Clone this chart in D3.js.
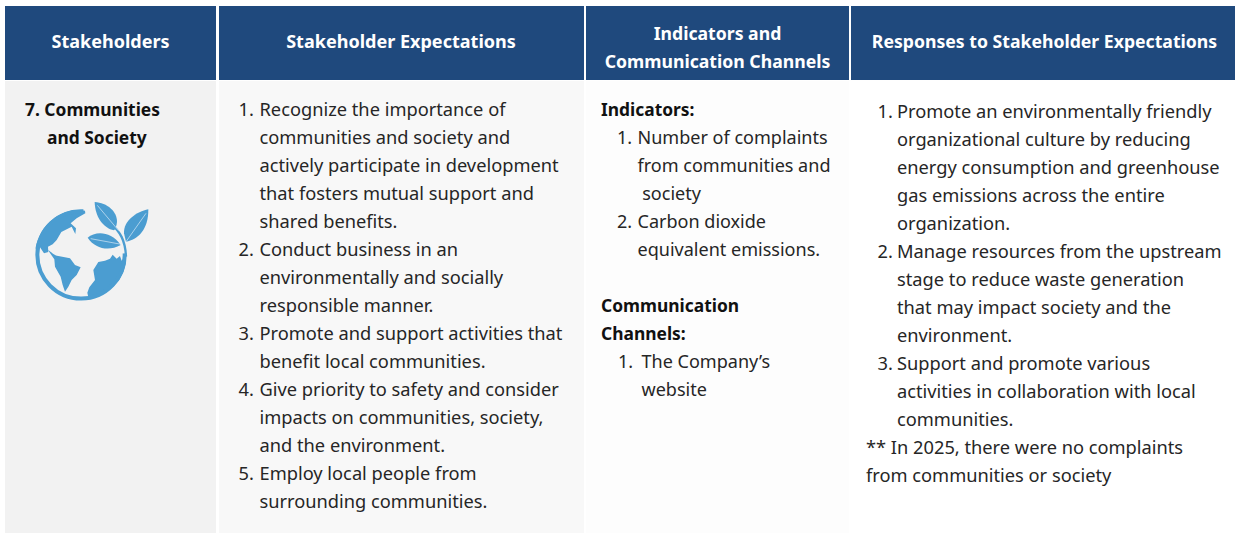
<!DOCTYPE html>
<html>
<head>
<meta charset="utf-8">
<script src="https://cdn.jsdelivr.net/npm/d3@7"></script>
<style>
html, body { margin: 0; padding: 0; background: #fff; overflow: hidden; }
text { font-family: "Noto Sans", sans-serif; font-size: 18.25px; fill: #262626; white-space: pre; }
.head { font-weight: 700; fill: #fff; text-anchor: middle; }
.bold { font-size: 17.4px; font-weight: 700; fill: #111; }
.mid { font-size: 18.05px; }
</style>
</head>
<body>
<div id="chart"></div>
<script>
// header labels, one list of lines per column
var headers = [
    ["Stakeholders"],
    ["Stakeholder Expectations"],
    ["Indicators and", "Communication Channels"],
    ["Responses to Stakeholder Expectations"]
];

// body rows: [number, text]
var stakeholderRows = [
    ["7.", "Communities"],
    ["", "and Society"]
];

var expectationRows = [
    ["1.", "Recognize the importance of"],
    ["", "communities and society and"],
    ["", "actively participate in development"],
    ["", "that fosters mutual support and"],
    ["", "shared benefits."],
    ["2.", "Conduct business in an"],
    ["", "environmentally and socially"],
    ["", "responsible manner."],
    ["3.", "Promote and support activities that"],
    ["", "benefit local communities."],
    ["4.", "Give priority to safety and consider"],
    ["", "impacts on communities, society,"],
    ["", "and the environment."],
    ["5.", "Employ local people from"],
    ["", "surrounding communities."]
];

var indicatorRows = [
    ["1.", "Number of complaints"],
    ["", "from communities and"],
    ["", " society"],
    ["2.", "Carbon dioxide"],
    ["", "equivalent emissions."]
];

var channelRows = [
    ["1.", "The Company\u2019s"],
    ["", "website"]
];

var indicatorHeading = ["Indicators:"];
var channelHeading = ["Communication", "Channels:"];

var responseRows = [
    ["1.", "Promote an environmentally friendly"],
    ["", "organizational culture by reducing"],
    ["", "energy consumption and greenhouse"],
    ["", "gas emissions across the entire"],
    ["", "organization."],
    ["2.", "Manage resources from the upstream"],
    ["", "stage to reduce waste generation"],
    ["", "that may impact society and the"],
    ["", "environment."],
    ["3.", "Support and promote various"],
    ["", "activities in collaboration with local"],
    ["", "communities."]
];

var responseNote = ["** In 2025, there were no complaints", "from communities or society"];

var width = 1235, height = 533;
var colX = [5, 219, 586, 851];
var colEnd = [216, 584, 849, 1235];
var colFill = ["#f2f2f2", "#f8f8f8", "#fdfdfd", "#ffffff"];
var headSize = [18, 18.05, 17.65, 17.65];
var headShift = [0, -0.5, 0, 1.5];
var headTop = 6, headBottom = 80;

var svg = d3.select("#chart").append("svg")
    .attr("width", width)
    .attr("height", height);

// row index to baseline
var rowY = d3.scaleLinear().domain([0, 1]).range([116, 144]);

// column backgrounds
svg.selectAll(".cell")
    .data(colX)
    .enter().append("rect")
    .attr("class", "cell")
    .attr("x", function(d) { return d; })
    .attr("y", headBottom + 1)
    .attr("width", function(d, i) { return colEnd[i] - d; })
    .attr("height", height - headBottom - 1)
    .attr("fill", function(d, i) { return colFill[i]; });

// header cells
var head = svg.selectAll(".headcell")
    .data(headers)
    .enter().append("g")
    .attr("class", "headcell");

head.append("rect")
    .attr("x", function(d, i) { return colX[i]; })
    .attr("y", headTop)
    .attr("width", function(d, i) { return colEnd[i] - colX[i]; })
    .attr("height", headBottom - headTop)
    .attr("fill", "#1f497d");

head.each(function(lines, i) {
    var cx = (colX[i] + colEnd[i]) / 2 + headShift[i];
    var top = lines.length === 1 ? 48 : 40;
    d3.select(this).selectAll("text")
        .data(lines)
        .enter().append("text")
        .attr("class", "head")
        .style("font-size", headSize[i] + "px")
        .attr("x", cx)
        .attr("y", function(d, j) { return top + j * 28; })
        .text(function(d) { return d; });
});

// numbered list helper
function drawRows(rows, firstRow, numX, textX, extraClass, offset) {
    var g = svg.append("g").attr("transform", "translate(0," + (offset || 0) + ")");
    rows.forEach(function(r, i) {
        var y = rowY(firstRow + i);
        if (r[0]) {
            g.append("text").attr("class", extraClass || "")
                .attr("x", numX).attr("y", y).text(r[0]);
        }
        g.append("text").attr("class", extraClass || "")
            .attr("x", textX).attr("y", y).text(r[1]);
    });
    return g;
}

function drawPlain(lines, firstRow, x, extraClass, offset) {
    var g = svg.append("g").attr("transform", "translate(0," + (offset || 0) + ")");
    g.selectAll("text")
        .data(lines)
        .enter().append("text")
        .attr("class", extraClass || "")
        .attr("x", x)
        .attr("y", function(d, i) { return rowY(firstRow + i); })
        .text(function(d) { return d; });
}

// first column
svg.append("text").attr("class", "bold").attr("x", 25).attr("y", rowY(0)).text("7. " + stakeholderRows[0][1]);
svg.append("text").attr("class", "bold").attr("x", 47).attr("y", rowY(1)).text(stakeholderRows[1][1]);

drawRows(expectationRows, 0, 238.5, 259.5);

drawPlain(indicatorHeading, 0, 601, "bold");
drawRows(indicatorRows, 1, 617, 637.5, "mid");
drawPlain(channelHeading, 7, 601, "bold");
drawRows(channelRows, 9, 618, 641.5, "mid");

drawRows(responseRows, 0, 877.5, 897, "", 2);
drawPlain(responseNote, 12, 866, "", 2);

// globe icon, traced in 3x space
var icon = svg.append("g")
    .attr("transform", "translate(20,190) scale(0.3333)")
    .attr("fill", "#4b9dd1");

var shapes = [
    "M195,62 C150,54 90,75 60,135 C50,155 47,170 47,176 L60,172 L72,190 L85,186 L84,170 L98,163 L110,150 L124,126 L155,110 L166,132 L168,115 L152,100 L170,85 L196,70 Z",
    "M84,180 C95,186 100,196 115,198 L150,205 L165,225 L182,232 L170,255 L155,270 L145,290 L135,305 L128,285 L122,260 L105,230 L103,208 L92,192 Z",
    "M318,195 C320,260 280,312 205,322 L202,308 L208,292 L225,270 L220,240 L235,216 L255,212 L270,206 L278,194 L290,206 L300,198 L305,212 Z",
    "M224,36 C262,38 292,65 291,96 C290,108 286,118 282,121 C250,115 225,80 224,36 Z",
    "M385,58 C350,65 310,92 312,130 L318,155 C352,150 386,120 385,58 Z",
    "M203,143 C226,124 272,122 302,165 C265,186 225,175 203,143 Z"
];

icon.selectAll(".land")
    .data(shapes)
    .enter().append("path")
    .attr("class", "land")
    .attr("d", function(d) { return d; });

// ring stops short of the leaves
icon.append("path")
    .attr("d", "M190,64 A131,131 0 1 0 314,190")
    .attr("fill", "none")
    .attr("stroke", "#4b9dd1")
    .attr("stroke-width", 12);

// stem and leaf veins
icon.append("path")
    .attr("d", "M272,100 C300,125 316,150 318,200")
    .attr("fill", "none")
    .attr("stroke", "#4b9dd1")
    .attr("stroke-width", 7);

icon.selectAll(".vein")
    .data(["M232,46 L296,122", "M378,70 L316,158", "M212,146 L304,163"])
    .enter().append("path")
    .attr("class", "vein")
    .attr("d", function(d) { return d; })
    .attr("fill", "none")
    .attr("stroke", "#dcecf7")
    .attr("stroke-width", 2);
</script>
</body>
</html>
